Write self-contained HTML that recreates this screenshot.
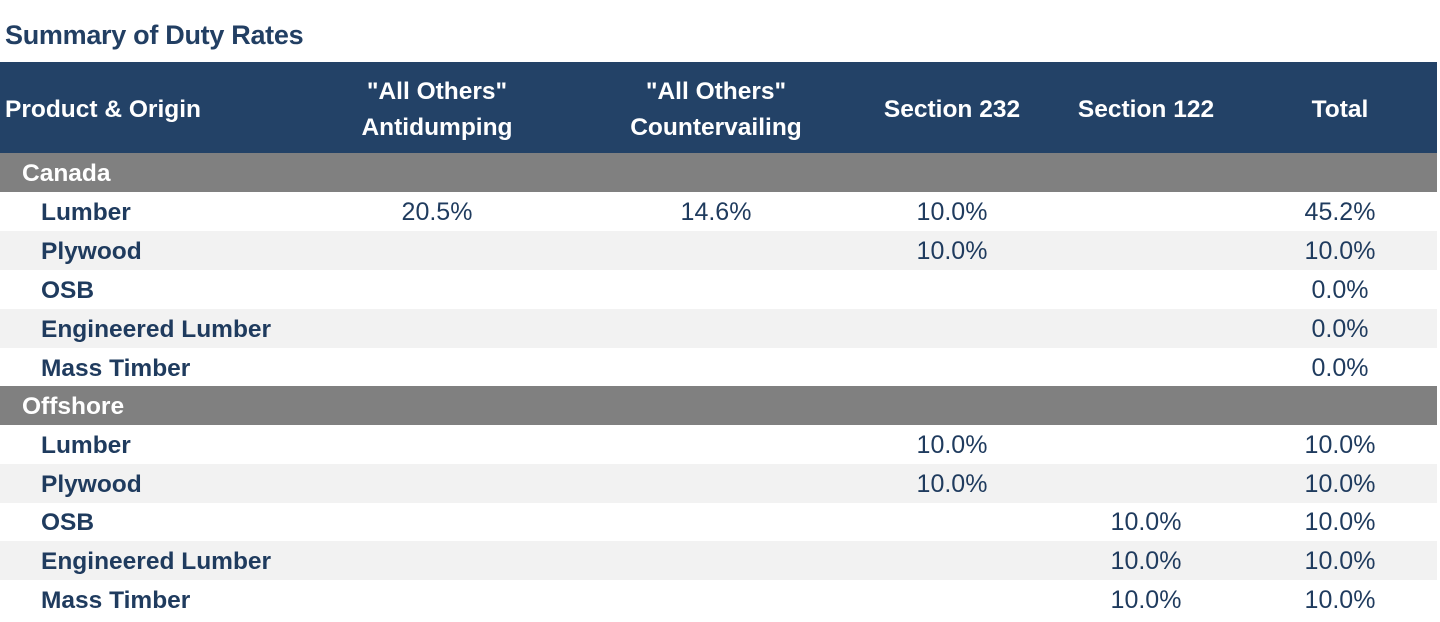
<!DOCTYPE html>
<html><head><style>
body{margin:0;width:1440px;height:620px;background:#fff;font-family:"Liberation Sans",sans-serif;position:relative;overflow:hidden;color:#1f3b5e}
.t{position:absolute;left:5px;top:20px;font-size:27px;font-weight:bold;color:#223f63;letter-spacing:-0.3px}
.hd{position:absolute;left:0;top:62px;width:1437px;height:91px;background:#234267}
.r{position:absolute;left:0;width:1437px;height:39px}
.g{background:#808080}
.s{background:#f2f2f2}
.c{position:absolute;top:0;font-size:24.5px;line-height:42px;white-space:nowrap}
.h{position:absolute;color:#fff;font-weight:bold;font-size:24.5px;line-height:36px;text-align:center;white-space:nowrap;transform:translateX(-50%)}
.v{transform:translateX(-50%);color:#1f3b5e;font-size:25px;line-height:41px}
.l{font-weight:bold;left:41px}
.gl{font-weight:bold;left:22px;color:#fff}
</style></head><body>
<div class="t">Summary of Duty Rates</div>
<div class="hd"></div>
<div class="h" style="transform:none;top:92px;left:5px">Product &amp; Origin</div>
<div class="h" style="left:437px;top:74px">"All Others"<br>Antidumping</div>
<div class="h" style="left:716px;top:74px">"All Others"<br>Countervailing</div>
<div class="h" style="left:952px;top:92px">Section 232</div>
<div class="h" style="left:1146px;top:92px">Section 122</div>
<div class="h" style="left:1340px;top:92px">Total</div>

<div class="r g" style="top:153px"><span class="c gl">Canada</span></div>
<div class="r" style="top:192px"><span class="c l">Lumber</span><span class="c v" style="left:437px">20.5%</span><span class="c v" style="left:716px">14.6%</span><span class="c v" style="left:952px">10.0%</span><span class="c v" style="left:1340px">45.2%</span></div>
<div class="r s" style="top:231px"><span class="c l">Plywood</span><span class="c v" style="left:952px">10.0%</span><span class="c v" style="left:1340px">10.0%</span></div>
<div class="r" style="top:270px"><span class="c l">OSB</span><span class="c v" style="left:1340px">0.0%</span></div>
<div class="r s" style="top:309px"><span class="c l">Engineered Lumber</span><span class="c v" style="left:1340px">0.0%</span></div>
<div class="r" style="top:348px"><span class="c l">Mass Timber</span><span class="c v" style="left:1340px">0.0%</span></div>
<div class="r g" style="top:386px"><span class="c gl">Offshore</span></div>
<div class="r" style="top:425px"><span class="c l">Lumber</span><span class="c v" style="left:952px">10.0%</span><span class="c v" style="left:1340px">10.0%</span></div>
<div class="r s" style="top:464px"><span class="c l">Plywood</span><span class="c v" style="left:952px">10.0%</span><span class="c v" style="left:1340px">10.0%</span></div>
<div class="r" style="top:502px"><span class="c l">OSB</span><span class="c v" style="left:1146px">10.0%</span><span class="c v" style="left:1340px">10.0%</span></div>
<div class="r s" style="top:541px"><span class="c l">Engineered Lumber</span><span class="c v" style="left:1146px">10.0%</span><span class="c v" style="left:1340px">10.0%</span></div>
<div class="r" style="top:580px"><span class="c l">Mass Timber</span><span class="c v" style="left:1146px">10.0%</span><span class="c v" style="left:1340px">10.0%</span></div>
</body></html>
